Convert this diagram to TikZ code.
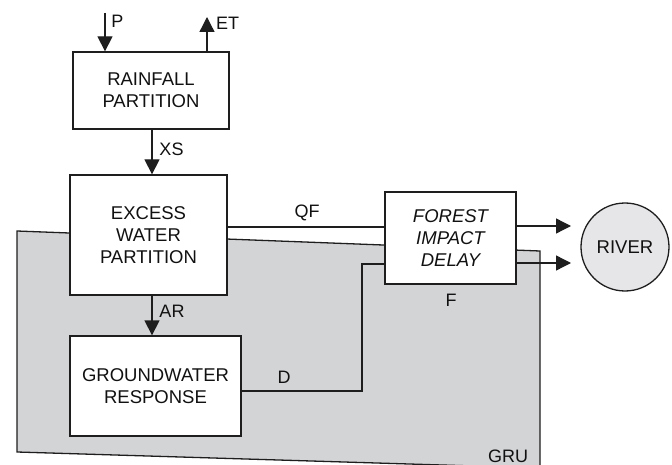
\documentclass[tikz,border=0pt]{standalone}
\usepackage{fontspec}
\setmainfont{Liberation Sans}
\usetikzlibrary{arrows.meta}
\definecolor{lc}{HTML}{1E1E1E}
\definecolor{tc}{HTML}{111111}
\definecolor{grufill}{HTML}{D3D4D6}
\definecolor{riverfill}{HTML}{E6E6E8}
\begin{document}
\begin{tikzpicture}[x=1pt,y=-1pt,
  line/.style={draw=lc, line width=1.3pt},
  box/.style={draw=lc, line width=1.3pt, fill=white, align=center,
    font=\fontsize{18.5}{22}\selectfont, text=tc, inner sep=0pt},
  lab/.style={font=\fontsize{18}{21}\selectfont, text=tc, inner sep=0pt},
  arr/.style={line, -{Triangle[length=15pt,width=15pt]}},
]
\useasboundingbox (0,0) rectangle (672,465);

% GRU region
\draw[line, fill=grufill] (17,231) -- (540,251) -- (540,468) -- (17,452) -- cycle;
\node[lab] (gru) at (508,456) {GRU};

% boxes
\node[box, minimum width=156pt, minimum height=77pt] (rain) at (151,90.5) {RAINFALL\\PARTITION};
\node[box, minimum width=157pt, minimum height=120pt] (exc) at (148.5,235) {EXCESS\\WATER\\PARTITION};
\node[box, minimum width=171pt, minimum height=100pt] (gw) at (155.5,386) {GROUNDWATER\\RESPONSE};
\node[box, minimum width=131pt, minimum height=92pt] (fid) at (450.5,238) {\itshape FOREST\\\itshape IMPACT\\\itshape DELAY};
\node[box, circle, fill=riverfill, minimum size=88pt] (river) at (625,247) {RIVER};

% helper coordinates
\coordinate (p0) at (105,13);
\coordinate (et0) at (207,17);
\coordinate (xs) at (152,150);
\coordinate (ar) at (152,310);
\coordinate (qf) at (300,227);
\coordinate (dlow) at (362,391);
\coordinate (dhigh) at (362,264);
\coordinate (o1) at (571,226);
\coordinate (o2) at (571,263);

% connectors
\draw[arr] (p0) -- (p0 |- rain.north);
\draw[arr] (et0 |- rain.north) -- (et0);
\draw[arr] (rain.south -| xs) -- (exc.north -| xs);
\draw[arr] (exc.south -| ar) -- (gw.north -| ar);
\draw[line] (exc.east |- qf) -- (fid.west |- qf);
\draw[line] (gw.east |- dlow) -- (dlow) -- (dhigh) -- (fid.west |- dhigh);
\draw[arr] (fid.east |- o1) -- (o1);
\draw[arr] (fid.east |- o2) -- (o2);

% labels
\node[lab] (lp) at (117.5,21.5) {P};
\node[lab] (let) at (227.5,23) {ET};
\node[lab] (lxs) at (171.5,149) {XS};
\node[lab] (lar) at (172,311) {AR};
\node[lab] (lqf) at (307,213) {QF};
\node[lab] (ld) at (284,377) {D};
\node[lab] (lf) at (451,300) {F};
\end{tikzpicture}
\end{document}
